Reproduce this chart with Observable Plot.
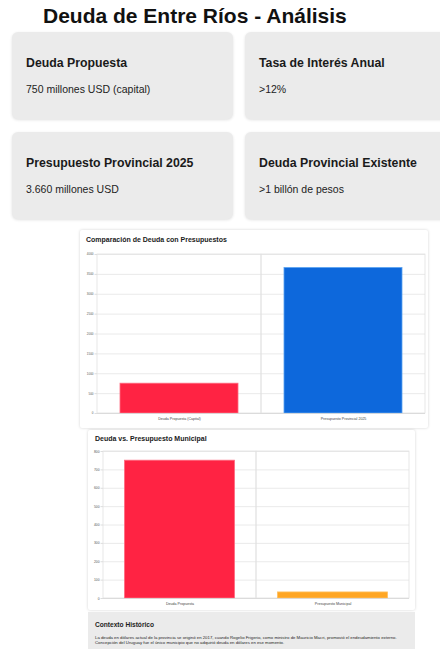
<!DOCTYPE html>
<html lang="es">
<head>
<meta charset="utf-8">
<script src="https://cdn.jsdelivr.net/npm/d3@7"></script>
<script src="https://cdn.jsdelivr.net/npm/@observablehq/plot@0.6"></script>
<style>
  html, body { margin: 0; padding: 0; background: #fff; }
  body { width: 440px; height: 662px; position: relative; overflow: hidden; font-family: "Liberation Sans", Arial, sans-serif; color: #1e1e1e; }
  .abs { position: absolute; }
  h1 { position: absolute; left: 43px; top: 4px; margin: 0; font-size: 21px; font-weight: bold; white-space: nowrap; color: #111; }
  .card { position: absolute; background: #ebebeb; border-radius: 6px; box-shadow: 0 1px 3px rgba(0,0,0,0.12); }
  .card .t { position: absolute; left: 14px; font-size: 12.3px; font-weight: bold; white-space: nowrap; color: #1a1a1a; }
  .card .v { position: absolute; left: 14px; font-size: 10.5px; white-space: nowrap; color: #222; }
  .panel { position: absolute; background: #fff; box-shadow: 0 0 3px rgba(0,0,0,0.18); border-radius: 2px; }
  .ptitle { position: absolute; font-size: 7px; font-weight: bold; white-space: nowrap; color: #1a1a1a; }
  .ctx { position: absolute; left: 88px; top: 612px; width: 327px; height: 37px; background: #ebebeb; }
  .ctx .h { position: absolute; left: 7px; top: 9px; font-size: 6.6px; font-weight: bold; white-space: nowrap; }
  .ctx .p { position: absolute; left: 7px; top: 23px; font-size: 4.3px; line-height: 5px; width: 320px; }
  svg { overflow: visible; }
</style>
</head>
<body>
<h1 id="title"></h1>
<div id="cards"></div>
<div class="panel" style="left:80px;top:230px;width:348px;height:198px;"></div>
<div class="ptitle" style="left:86px;top:236px;" id="t1"></div>
<div class="abs" id="chart1" style="left:80px;top:230px;"></div>
<div class="panel" style="left:88px;top:430px;width:327px;height:180px;"></div>
<div class="ptitle" style="left:95px;top:435px;" id="t2"></div>
<div class="abs" id="chart2" style="left:88px;top:430px;"></div>
<div class="ctx"><div class="h" id="ctxh"></div><div class="p" id="ctxp"></div></div>
<script>
// ---- data ----
const pageTitle = "Deuda de Entre Ríos - Análisis";
const cardTitles = ["Deuda Propuesta", "Tasa de Interés Anual", "Presupuesto Provincial 2025", "Deuda Provincial Existente"];
const cardValues = ["750 millones USD (capital)", ">12%", "3.660 millones USD", ">1 billón de pesos"];

const chart1Title = "Comparación de Deuda con Presupuestos";
const chart1Categories = ["Deuda Propuesta (Capital)", "Presupuesto Provincial 2025"];
const chart1Values = [750, 3660];
const chart1Ticks = [0, 500, 1000, 1500, 2000, 2500, 3000, 3500, 4000];

const chart2Title = "Deuda vs. Presupuesto Municipal";
const chart2Categories = ["Deuda Propuesta", "Presupuesto Municipal"];
const chart2Values = [750, 33];
const chart2Ticks = [0, 100, 200, 300, 400, 500, 600, 700, 800];

const contextTitle = "Contexto Histórico";
const contextText = "La deuda en dólares actual de la provincia se originó en 2017, cuando Rogelio Frigerio, como ministro de Mauricio Macri, promovió el endeudamiento externo. Concepción del Uruguay fue el único municipio que no adquirió deuda en dólares en ese momento.";

// ---- styles ----
const chart1Colors = ["#ff2343", "#0d68dc"];
const chart1Strokes = ["#ff6a80", "#5aa2f0"];
const chart2Colors = ["#ff2343", "#ffa623"];
const chart2Strokes = ["#ff6a80", "#ffc060"];

document.getElementById("title").textContent = pageTitle;
const cardPos = [[12, 32], [245, 32], [12, 132], [245, 132]];
const cardsEl = document.getElementById("cards");
cardTitles.forEach((t, i) => {
  const c = document.createElement("div");
  c.className = "card";
  c.style.left = cardPos[i][0] + "px";
  c.style.top = cardPos[i][1] + "px";
  c.style.width = "221px";
  c.style.height = "87px";
  const tt = document.createElement("div"); tt.className = "t"; tt.style.top = "24px"; tt.textContent = t;
  const vv = document.createElement("div"); vv.className = "v"; vv.style.top = "51px"; vv.textContent = cardValues[i];
  c.appendChild(tt); c.appendChild(vv);
  cardsEl.appendChild(c);
});
document.getElementById("t1").textContent = chart1Title;
document.getElementById("t2").textContent = chart2Title;
document.getElementById("ctxh").textContent = contextTitle;
document.getElementById("ctxp").textContent = contextText;

function barChart(cats, vals, ticks, fills, strokes, o) {
  const data = cats.map((c, i) => ({cat: c, value: vals[i], fill: fills[i], stroke: strokes[i]}));
  return Plot.plot({
    width: o.width, height: o.height,
    marginTop: o.mt, marginBottom: o.mb, marginLeft: o.ml, marginRight: o.mr,
    style: {fontFamily: "Liberation Sans, Arial, sans-serif", color: "#555", background: "transparent", overflow: "visible"},
    x: {domain: cats, padding: 0, label: null},
    y: {domain: [ticks[0], ticks[ticks.length - 1]], label: null},
    marks: [
      Plot.gridY(ticks, {stroke: "#e4e4e4", strokeOpacity: 1, strokeWidth: 0.8}),
      Plot.cell(cats, {x: d => d, fill: "none", stroke: "#e2e2e2", strokeWidth: 0.8}),
      Plot.barY(data, {x: "cat", y: "value", fill: "fill", stroke: "stroke", strokeWidth: 0.8, insetLeft: o.inset, insetRight: o.inset}),
      Plot.ruleY([0], {stroke: "#d8d8d8", strokeWidth: 0.8}),
      Plot.axisY(ticks, {tickSize: 2.5, tickPadding: 1.5, fontSize: o.yfs, stroke: "#ddd", fill: "#555", tickFormat: d => String(d)}),
      Plot.axisX(cats, {tickSize: 0, tickPadding: 3.5, fontSize: o.xfs, fill: "#444"})
    ]
  });
}

document.getElementById("chart1").appendChild(
  barChart(chart1Categories, chart1Values, chart1Ticks, chart1Colors, chart1Strokes,
    {width: 348, height: 198, mt: 24, mb: 15, ml: 17, mr: 3, inset: 23, yfs: 3, xfs: 3.6}));
document.getElementById("chart2").appendChild(
  barChart(chart2Categories, chart2Values, chart2Ticks, chart2Colors, chart2Strokes,
    {width: 327, height: 180, mt: 21, mb: 12, ml: 15, mr: 6, inset: 21.5, yfs: 3.3, xfs: 3.6}));
</script>
</body>
</html>
